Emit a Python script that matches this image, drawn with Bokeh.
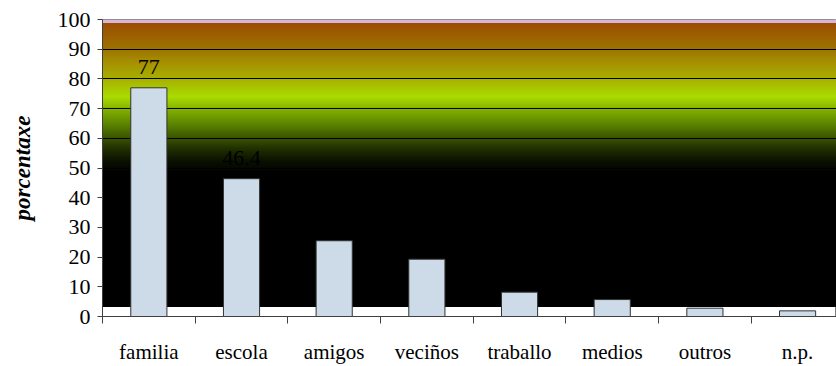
import numpy as np
from bokeh.plotting import figure
from bokeh.models import Range1d, FixedTicker, ColumnDataSource
from bokeh.core.properties import value
from bokeh.embed import file_html
from bokeh.resources import INLINE

categories = ["familia", "escola", "amigos", "veciños", "traballo", "medios", "outros", "n.p."]
percent = [77, 46.4, 25.5, 19.3, 8.2, 5.7, 2.8, 1.9]
label_text = ["77", "46.4", "", "", "", "", "", ""]
y_ticks = [0, 10, 20, 30, 40, 50, 60, 70, 80, 90, 100]

FONT = "Liberation Serif"

# background gradient style stops (value -> colour)
stop_vals = [48, 52, 56, 60, 65, 70, 74, 80, 85, 90, 95, 98.8]
stop_cols = ["#000000", "#0a1000", "#1e2c00", "#3a5400", "#5e8600", "#86b400",
             "#aadc00", "#a8b000", "#a69400", "#9e7400", "#9c5e00", "#9c4e00"]
WHITE_TOP = 3.2

p = figure(width=836, height=366, output_backend="svg", toolbar_location=None,
           x_range=Range1d(-0.5, 7.42), y_range=Range1d(0, 100),
           min_border_left=102, min_border_right=0, min_border_top=19, min_border_bottom=50)
p.background_fill_color = "white"
p.border_fill_color = "white"
p.outline_line_color = "#808080"

def hex2rgb(h):
    return np.array([int(h[i:i+2], 16) for i in (1, 3, 5)], dtype=float)

# black base, then stacked gradient bands (each runs to the top, drawn bottom-up)
r0 = p.quad(left=-0.6, right=7.5, bottom=WHITE_TOP, top=stop_vals[-1], fill_color="black", line_color=None)
step = 0.25
bot = np.arange(stop_vals[0], stop_vals[-1], step)
rgb = np.array([hex2rgb(c) for c in stop_cols])
cols = []
for m in bot + step / 2:
    r = np.interp(m, stop_vals, rgb[:, 0])
    g = np.interp(m, stop_vals, rgb[:, 1])
    b = np.interp(m, stop_vals, rgb[:, 2])
    cols.append("#%02x%02x%02x" % (int(r), int(g), int(b)))
r1 = p.quad(left=-0.6, right=7.5, bottom=bot, top=stop_vals[-1], fill_color=cols, line_color=None)
r2 = p.quad(left=-0.6, right=7.5, bottom=stop_vals[-1], top=100, fill_color="#d8b6dc", line_color=None)
for r in (r0, r1, r2):
    r.level = "image"

p.ygrid.ticker = FixedTicker(ticks=y_ticks[1:-1])
p.ygrid.grid_line_color = "black"
p.ygrid.grid_line_width = 1
p.xgrid.grid_line_color = None

xs = list(range(len(categories)))
src = ColumnDataSource(dict(x=xs, top=percent, lab=label_text))
p.vbar(x="x", top="top", width=0.39, bottom=0, source=src,
       fill_color="#cddbe8", line_color="#333333", line_width=1)
p.text(x="x", y="top", text="lab", source=src, text_align="center",
       text_baseline="bottom", y_offset=-14, text_font=value(FONT),
       text_font_size="22px", text_color="black")

# axes
p.yaxis.ticker = FixedTicker(ticks=y_ticks)
p.yaxis.major_tick_out = 5
p.yaxis.major_tick_in = 0
p.yaxis.minor_tick_line_color = None
p.yaxis.major_label_standoff = 7
p.yaxis.axis_line_color = "#404040"
p.yaxis.major_tick_line_color = "#404040"
p.yaxis.major_label_text_font = FONT
p.yaxis.major_label_text_font_size = "22px"
p.yaxis.major_label_text_color = "black"
p.yaxis.axis_label = "porcentaxe"
p.yaxis.axis_label_text_font = FONT
p.yaxis.axis_label_text_font_style = "bold italic"
p.yaxis.axis_label_text_font_size = "23px"
p.yaxis.axis_label_standoff = 20
p.yaxis.axis_label_text_color = "black"

p.xaxis.ticker = FixedTicker(ticks=xs, minor_ticks=[i - 0.5 for i in range(len(categories) + 1)])
p.xaxis.major_label_overrides = {i: c for i, c in enumerate(categories)}
p.xaxis.major_tick_line_color = None
p.xaxis.major_tick_out = 0
p.xaxis.major_tick_in = 0
p.xaxis.minor_tick_out = 7
p.xaxis.minor_tick_in = 0
p.xaxis.minor_tick_line_color = "#404040"
p.xaxis.axis_line_color = "#404040"
p.xaxis.major_label_standoff = 16
p.xaxis.major_label_text_font = FONT
p.xaxis.major_label_text_font_size = "21px"
p.xaxis.major_label_text_color = "black"

open("out.html", "w").write(file_html(p, INLINE))
